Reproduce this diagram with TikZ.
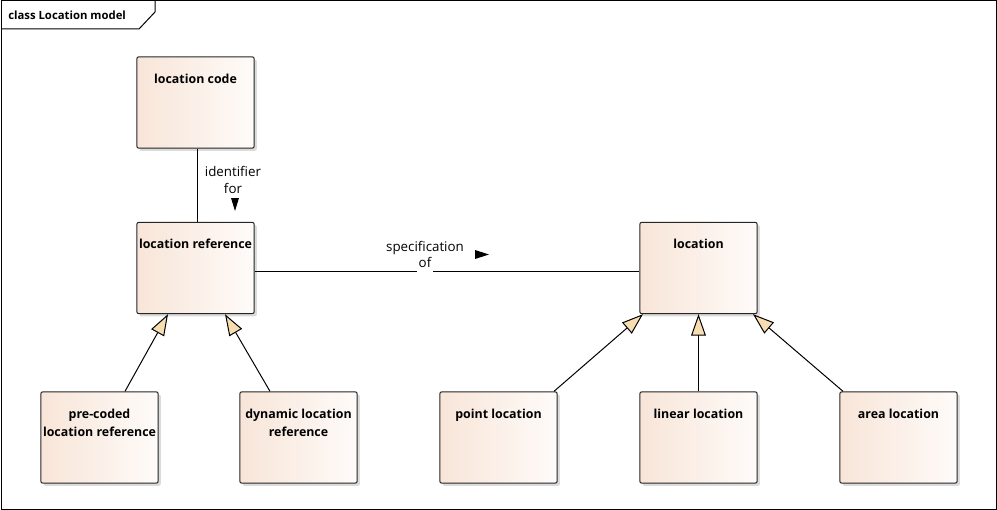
\documentclass[tikz,border=0pt]{standalone}
\usepackage{fontspec}
\setmainfont{Open Sans}
\usetikzlibrary{calc,arrows.meta,shadows}
\definecolor{boxleft}{RGB}{248,229,216}
\definecolor{boxright}{RGB}{254,251,249}
\definecolor{tipfill}{RGB}{248,221,176}
\tikzset{
  umlclass/.style={draw=black!85, line width=.75pt, rounded corners=1.5pt,
    minimum width=88pt, minimum height=68.5pt, inner sep=0pt,
    left color=boxleft, right color=boxright,
    drop shadow={shadow xshift=2pt, shadow yshift=-2pt, fill=black!14, opacity=1}},
  clsname/.style={anchor=north, yshift=-9.5pt, align=center,
    font=\bfseries\fontsize{9.3}{13.5}\selectfont},
  gen/.style={line width=.75pt, -{Triangle[length=16pt, width=11pt, fill=tipfill]}},
  assoc/.style={line width=.75pt},
  role/.style={align=center, inner sep=1pt, font=\fontsize{10}{12.2}\selectfont}
}
\begin{document}
\begin{tikzpicture}[x=.75pt, y=-.75pt]
\useasboundingbox (0,0) rectangle (997,510);
\draw[line width=.75pt] (1,1) rectangle (996,509);
\draw[line width=.75pt] (1,29) -- (139,29) -- (155,12) -- (155,1);
\node[anchor=west, inner sep=0pt, font=\bfseries\fontsize{8.5}{10}\selectfont] (title) at (8,15.5) {class Location model};

\node[umlclass, label={[clsname]north:location code}] (loccode) at (195.5,102.5) {};
\node[umlclass, label={[clsname]north:location reference}] (locref) at (195.5,268) {};
\node[umlclass, label={[clsname]north:location}] (location) at (698.5,268) {};
\node[umlclass, label={[clsname]north:{pre-coded\\location reference}}] (precoded) at (99.5,437.5) {};
\node[umlclass, label={[clsname]north:{dynamic location\\reference}}] (dynamic) at (298.5,437.5) {};
\node[umlclass, label={[clsname]north:point location}] (pointloc) at (498.5,437.5) {};
\node[umlclass, label={[clsname]north:linear location}] (linearloc) at (698.5,437.5) {};
\node[umlclass, label={[clsname]north:area location}] (arealoc) at (898.5,437.5) {};

\draw[assoc] ($(loccode.south)+(1.5,0)$) -- ($(locref.north)+(1.5,0)$);
\node[role] (idfor) at (233,180) {identifier\\for};
\fill (231,198) -- (239,198) -- (235,211) -- cycle;

\node[role] (specof) at (425,254.5) {specification\\of};
\coordinate (ofL) at ($(specof.south)+(-8,0)$);
\coordinate (ofR) at ($(specof.south)+(8,0)$);
\coordinate (assocL) at ([yshift=-2.25pt]locref.east);
\coordinate (assocR) at ([yshift=-2.25pt]location.west);
\draw[assoc] (assocL) -- (assocL -| ofL);
\draw[assoc] (assocR -| ofR) -- (assocR);
\fill (475,250) -- (489,254.5) -- (475,259) -- cycle;

\draw[gen] ($(precoded.north)+(25.5,0)$) -- ($(locref.south)+(-27.5,0)$);
\draw[gen] ($(dynamic.north)+(-28.5,0)$) -- ($(locref.south)+(29.5,0)$);
\draw[gen] ($(pointloc.north)+(55.5,0)$) -- ($(location.south)+(-55.5,0)$);
\draw[gen] (linearloc) -- (location);
\draw[gen] ($(arealoc.north)+(-55.5,0)$) -- ($(location.south)+(54.5,0)$);
\end{tikzpicture}
\end{document}
